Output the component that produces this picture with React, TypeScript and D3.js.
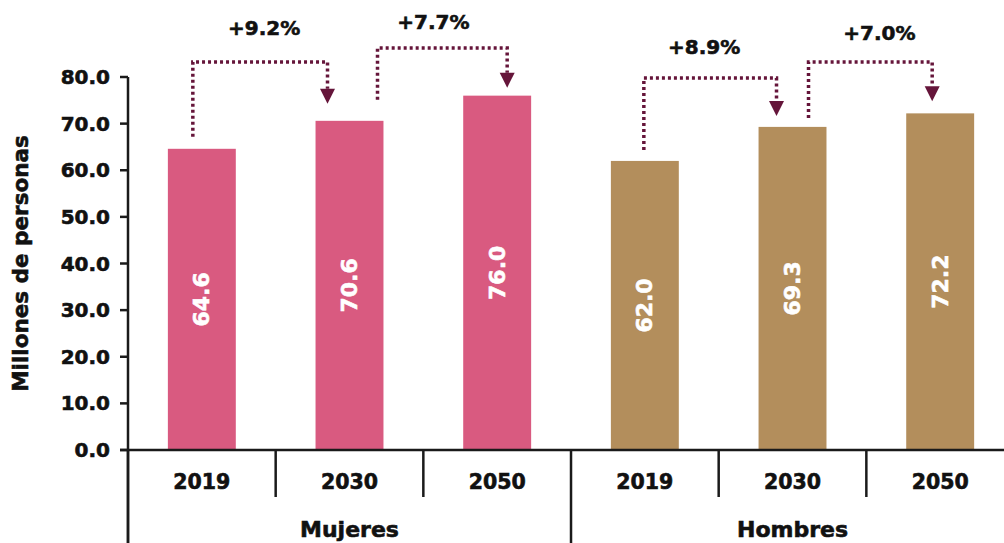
import React from "react";
import * as d3 from "d3";

const groups = ["Mujeres", "Hombres"];
const years = ["2019", "2030", "2050"];
const mujeresValues = [64.6, 70.6, 76.0];
const hombresValues = [62.0, 69.3, 72.2];
const yTicks = [0, 10, 20, 30, 40, 50, 60, 70, 80];
const changeFrom = [0, 1, 3, 4];
const changeTo = [1, 2, 4, 5];
const changeLabels = ["+9.2%", "+7.7%", "+8.9%", "+7.0%"];

// layout-only constants for the annotation connectors
const startDx = [-9, 28, -1, 16];
const endDx = [-22, 10, -16, -8];
const startGap = [12, 21, 11, 9];
const topLine = [62, 48, 78, 62];
const tipGap = [17, 8, 11, 12];
const labelDx = [4, -9, -6, 9];
const labelRise = [34, 26, 31, 29];

const W = 1004;
const H = 543;
const FONT = "'DejaVu Sans', sans-serif";
const colors = ["#d95a80", "#b38e5c"];
const arrowColor = "#65153a";
const axisColor = "#1a1a1a";
const textColor = "#111";

export default function App() {
  const left = 128;
  const slot = 147.67;
  const right = left + slot * 6;
  const y = d3.scaleLinear().domain([0, 80]).range([450, 77]);
  const cats = d3.range(6);
  const x = d3
    .scaleBand<number>()
    .domain(cats)
    .range([left, right])
    .paddingInner(0.54)
    .paddingOuter(0.27);
  const bars = [
    ...mujeresValues.map((v, i) => ({ g: 0, year: years[i], v })),
    ...hombresValues.map((v, i) => ({ g: 1, year: years[i], v })),
  ];
  const bw = x.bandwidth();
  const cx = (i: number) => (x(i) as number) + bw / 2;
  const fmt = d3.format(".1f");
  const base = y(0);
  const heavy = (c: string) => ({ fill: c, stroke: c, strokeWidth: 0.6 });

  return (
    <svg
      width={W}
      height={H}
      style={{ position: "absolute", left: 0, top: 0, display: "block" }}
      fontFamily={FONT}
      fontWeight={700}
    >
      <rect width={W} height={H} fill="#fff" />
      {bars.map((b, i) => (
        <rect
          key={i}
          x={x(i)}
          y={y(b.v)}
          width={bw}
          height={base - y(b.v)}
          fill={colors[b.g]}
        />
      ))}
      {bars.map((b, i) => {
        const my = (y(b.v) + base) / 2;
        return (
          <text
            key={"v" + i}
            transform={`translate(${cx(i)},${my}) rotate(-90)`}
            textAnchor="middle"
            dominantBaseline="central"
            fontSize={22}
            {...heavy("#fff")}
          >
            {fmt(b.v)}
          </text>
        );
      })}
      {/* y axis */}
      <line x1={left} x2={left} y1={y(80)} y2={H} stroke={axisColor} strokeWidth={2.5} />
      {yTicks.map((t) => (
        <g key={t}>
          <line x1={left - 8} x2={left} y1={y(t)} y2={y(t)} stroke={axisColor} strokeWidth={2.5} />
          <text
            x={left - 18}
            y={y(t)}
            textAnchor="end"
            dominantBaseline="central"
            fontSize={20}
            {...heavy(textColor)}
          >
            {fmt(t)}
          </text>
        </g>
      ))}
      <text
        transform={`translate(20,${(y(0) + y(80)) / 2}) rotate(-90)`}
        textAnchor="middle"
        dominantBaseline="central"
        fontSize={21.5}
        {...heavy(textColor)}
      >
        Millones de personas
      </text>
      {/* x axis */}
      <line x1={left - 8} x2={W} y1={base} y2={base} stroke={axisColor} strokeWidth={2.5} />
      {d3.range(7).map((k) => {
        const xx = left + k * slot;
        const full = k % 3 === 0;
        return (
          <line
            key={"s" + k}
            x1={xx}
            x2={xx}
            y1={base}
            y2={full ? H : 497}
            stroke={axisColor}
            strokeWidth={2.5}
          />
        );
      })}
      {bars.map((b, i) => (
        <text
          key={"yr" + i}
          x={cx(i)}
          y={482}
          textAnchor="middle"
          dominantBaseline="central"
          fontSize={20.5}
          {...heavy(textColor)}
        >
          {b.year}
        </text>
      ))}
      {groups.map((g, gi) => (
        <text
          key={g}
          x={left + slot * (gi * 3 + 1.5)}
          y={529}
          textAnchor="middle"
          dominantBaseline="central"
          fontSize={22}
          {...heavy(textColor)}
        >
          {g}
        </text>
      ))}
      {/* change annotations */}
      {changeFrom.map((f, k) => {
        const t = changeTo[k];
        const x0 = cx(f) + startDx[k];
        const x1 = cx(t) + endDx[k];
        const y0 = y(bars[f].v) - startGap[k];
        const yt = topLine[k];
        const tip = y(bars[t].v) - tipGap[k];
        const ah = 15;
        const path = `M${x0},${y0}V${yt}H${x1}V${tip - ah}`;
        return (
          <g key={"a" + k}>
            <path d={path} fill="none" stroke={arrowColor} strokeWidth={3.5} strokeDasharray="3 3" />
            <path
              d={`M${x1 - 7.5},${tip - ah}L${x1 + 7.5},${tip - ah}L${x1},${tip}Z`}
              fill={arrowColor}
            />
            <text
              x={(x0 + x1) / 2 + labelDx[k]}
              y={yt - labelRise[k]}
              textAnchor="middle"
              dominantBaseline="central"
              fontSize={20}
              {...heavy(textColor)}
            >
              {changeLabels[k]}
            </text>
          </g>
        );
      })}
    </svg>
  );
}
